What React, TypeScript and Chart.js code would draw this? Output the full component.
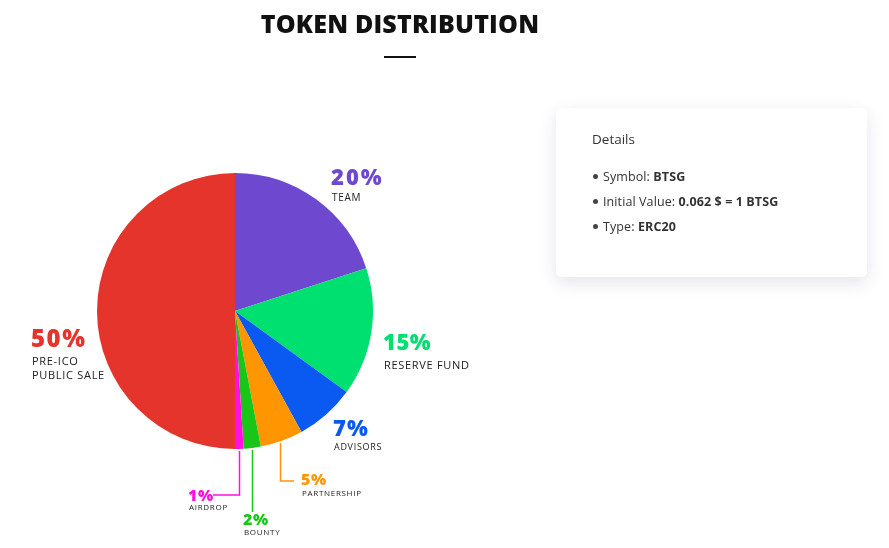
import React, { useEffect, useRef } from "react";
import { Chart, registerables } from "chart.js";
Chart.register(...registerables);

const categories = ["TEAM", "RESERVE FUND", "ADVISORS", "PARTNERSHIP", "BOUNTY", "AIRDROP", "PRE-ICO PUBLIC SALE"];
const shares = [20, 15, 7, 5, 2, 1, 50];
const colors = ["#6e49d0", "#00e070", "#0a59f0", "#ff9500", "#17c617", "#ff10e0", "#e5342b"];

// label layout (annotation placement only)
const labelLayout = [
  { x: 331, y: 179, pct: 22, nameLines: ["TEAM"], name: 10, gap: 19, ls: 2 },
  { x: 383, y: 344, pct: 22, nameLines: ["RESERVE FUND"], name: 11, gap: 22, ls: 0.5 },
  { x: 333, y: 430, pct: 22, nameLines: ["ADVISORS"], name: 9, gap: 17, ls: 1 },
  { x: 301, y: 480, pct: 16, nameLines: ["PARTNERSHIP"], name: 8, gap: 14, ls: 0.5, leader: { elbowY: 481, endX: 294, dx: -2 } },
  { x: 243, y: 520, pct: 16, nameLines: ["BOUNTY"], name: 8, gap: 13, ls: 0.5, leader: { elbowY: 512, dx: 0 } },
  { x: 188, y: 496, pct: 16, nameLines: ["AIRDROP"], name: 8, gap: 12, ls: 0.5, leader: { elbowY: 495, endX: 213, dx: 0 } },
  { x: 31, y: 340, pct: 24, nameLines: ["PRE-ICO", "PUBLIC SALE"], name: 11, gap: 22, ls: 1.5 },
];

const labelPlugin = {
  id: "pieLabels",
  afterDraw(chart: any) {
    const ctx = chart.ctx;
    const meta = chart.getDatasetMeta(0);
    meta.data.forEach((arc: any, i: number) => {
      const L: any = labelLayout[i];
      const col = colors[i];
      ctx.save();
      if (L.leader) {
        const mid = (arc.startAngle + arc.endAngle) / 2;
        const sx = arc.x + Math.cos(mid) * arc.outerRadius + L.leader.dx;
        const sy = arc.y + Math.sin(mid) * arc.outerRadius;
        ctx.strokeStyle = col;
        ctx.lineWidth = 1.5;
        ctx.beginPath();
        ctx.moveTo(Math.round(sx) + 0.5, sy + 2);
        ctx.lineTo(Math.round(sx) + 0.5, L.leader.elbowY);
        if (L.leader.endX !== undefined) ctx.lineTo(L.leader.endX, L.leader.elbowY);
        ctx.stroke();
      }
      ctx.fillStyle = col;
      ctx.textBaseline = "middle";
      ctx.textAlign = "left";
      ctx.font = `800 ${L.pct}px "Open Sans", sans-serif`;
      (ctx as any).letterSpacing = L.ls + "px";
      ctx.fillText(`${shares[i]}%`, L.x, L.y);
      ctx.fillStyle = "#222";
      ctx.font = `${L.name}px "Open Sans", sans-serif`;
      (ctx as any).letterSpacing = "0.7px";
      L.nameLines.forEach((t: string, k: number) => {
        ctx.fillText(t, L.x + 1, L.y + L.gap + k * (L.name + 3));
      });
      (ctx as any).letterSpacing = "0px";
      ctx.restore();
    });
  },
};

function PieChart() {
  const ref = useRef<HTMLCanvasElement>(null);
  useEffect(() => {
    const chart = new Chart(ref.current!, {
      type: "pie",
      data: {
        labels: categories,
        datasets: [{ data: shares, backgroundColor: colors, borderWidth: 0 }],
      },
      options: {
        animation: false,
        responsive: false,
        layout: { padding: { left: 97, right: 516, top: 173, bottom: 99 } },
        plugins: { legend: { display: false }, tooltip: { enabled: false } },
      },
      plugins: [labelPlugin],
    });
    return () => chart.destroy();
  }, []);
  return <canvas ref={ref} width={889} height={548} style={{ position: "absolute", left: 0, top: 0 }} />;
}

export default function App() {
  const li: React.CSSProperties = { display: "flex", alignItems: "center", height: 25 };
  const dot: React.CSSProperties = { width: 5, height: 5, borderRadius: 3, background: "#444", marginRight: 5, marginLeft: 1 };
  return (
    <div style={{ position: "fixed", left: 0, top: 0, width: 889, height: 548, background: "#fff", fontFamily: '"Open Sans", sans-serif', overflow: "hidden" }}>
      <PieChart />
      <div style={{ position: "absolute", left: 200, width: 400, top: 6, textAlign: "center", fontWeight: 800, fontSize: 25, color: "#111", letterSpacing: 0.2 }}>
        TOKEN DISTRIBUTION
      </div>
      <div style={{ position: "absolute", left: 384, top: 56, width: 32, height: 2, background: "#111" }} />
      <div style={{ position: "absolute", left: 556, top: 108, width: 311, height: 169, background: "#fff", borderRadius: 5, boxShadow: "0 6px 18px rgba(30,40,90,0.12)" }}>
        <div style={{ position: "absolute", left: 36, top: 22, fontSize: 13.5, color: "#333" }}>Details</div>
        <div style={{ position: "absolute", left: 36, top: 56, fontSize: 12.5, color: "#333", letterSpacing: 0.1 }}>
          <div style={li}><span style={dot} />Symbol:&nbsp;<b>BTSG</b></div>
          <div style={li}><span style={dot} />Initial Value:&nbsp;<b>0.062 $ = 1 BTSG</b></div>
          <div style={li}><span style={dot} />Type:&nbsp;<b>ERC20</b></div>
        </div>
      </div>
    </div>
  );
}
